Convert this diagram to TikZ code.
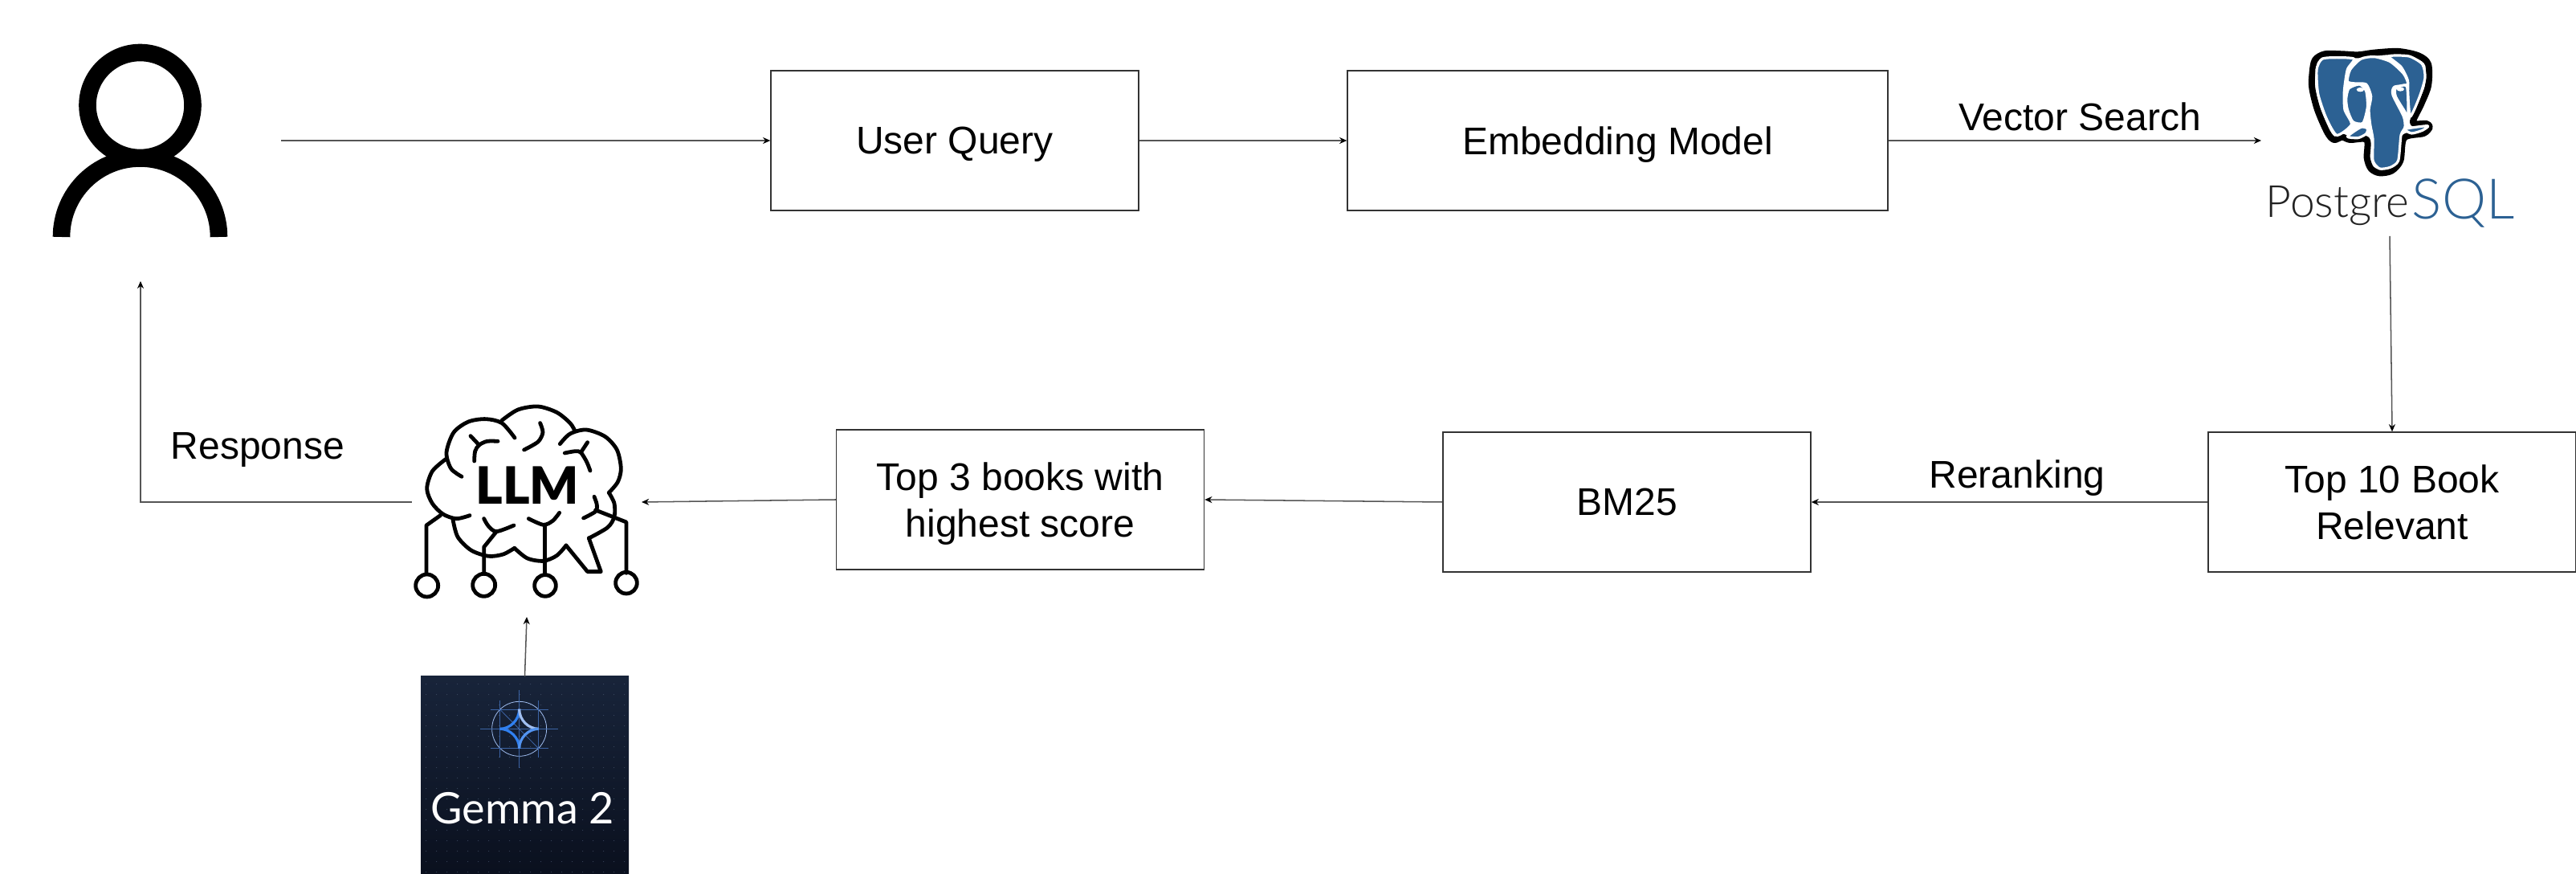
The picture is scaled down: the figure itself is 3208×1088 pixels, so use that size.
\documentclass[tikz,border=0pt]{standalone}
\usepackage{fontspec}
\setmainfont{Liberation Sans}
\newfontfamily\pgfont{Lato Light}
\newfontfamily\gemmafont{Lato}
\newfontfamily\llmfont{Lato Black}
\usetikzlibrary{arrows.meta}
\definecolor{line_gray}{RGB}{85, 85, 85}
\definecolor{pg_blue}{RGB}{44, 97, 147}
\definecolor{pg_dark}{RGB}{34, 34, 34}
\definecolor{gm_top}{RGB}{24, 36, 58}
\definecolor{gm_bottom}{RGB}{10, 16, 30}
\definecolor{gm_dot}{RGB}{72, 88, 112}
\definecolor{gm_blue}{RGB}{48, 128, 240}
\definecolor{gm_light}{RGB}{160, 190, 240}
\definecolor{gm_line}{RGB}{60, 100, 165}
\tikzstyle{box}=[rectangle,draw=black!80,line width=0.35pt,align=center,inner sep=0pt,text depth=0pt,
  minimum width=114.5pt,minimum height=43.5pt,font=\fontsize{12}{14.4}\selectfont]
\tikzstyle{wide}=[style=box,minimum width=168.25pt]
\tikzstyle{tag}=[inner sep=0pt,text depth=0pt,font=\fontsize{12}{14.4}\selectfont]
\tikzstyle{flow}=[draw=line_gray,line width=0.38pt,-{Stealth[length=2.3pt,width=2pt,black]}]
\tikzstyle{icon}=[inner sep=0pt,outer sep=0pt]
\tikzstyle{ink}=[draw=black,line width=1.2pt,line cap=round,line join=round]
\tikzstyle{ear}=[fill=pg_blue,draw=white,line width=0.8pt,line join=round]
\begin{document}
\begin{tikzpicture}[x=0.25pt,y=-0.25pt]
    \useasboundingbox (0,0) rectangle (3208,1088);
    % icons are empty nodes, the drawings go on top
    \node [style=icon,minimum width=87.5pt,minimum height=87.5pt] (user) at (175,175) {};
    \node [style=icon,minimum width=80pt,minimum height=59.5pt] (postgres) at (2976,175) {};
    \node [style=icon,minimum width=71.5pt,minimum height=71.5pt] (llm) at (656,625) {};
    \node [style=icon,minimum width=64.75pt,minimum height=61.5pt,top color=gm_top,bottom color=gm_bottom] (gemma) at (653.5,965) {};

    \node [style=box] (query) at (1189,175) {User Query};
    \node [style=wide] (embed) at (2014.5,175) {Embedding Model};
    \node [style=box] (top10) at (2979,625) {Top 10 Book\\Relevant};
    \node [style=box] (bm25) at (2026,625) {BM25};
    \node [style=box] (top3) at (1270.5,622) {Top 3 books with\\highest score};

    \node [style=tag] (vector) at (2590,145) {Vector Search};
    \node [style=tag] (rerank) at (2512,590) {Reranking};
    \node [style=tag] (response) at (321,555) {Response};

    \draw [style=flow] (user.east) to (query.west);
    \draw [style=flow] (query.east) to (embed.west);
    \draw [style=flow] (embed.east) to (postgres.west);
    \draw [style=flow] (postgres.south) to (top10.north);
    \draw [style=flow] (top10.west) to (bm25.east);
    \draw [style=flow] (bm25.west) to (top3.east);
    \draw [style=flow] (top3.west) to (llm.east);
    \draw [style=flow] (llm.west) -| (user.south);
    \draw [style=flow] (gemma.north) to (llm.south);

    % person
    \draw [line width=5.4pt] (174.5,131) circle (65.5);
    \draw [line width=5.4pt] (76.5,295) arc [start angle=180,end angle=360,radius=98];

    % elephant
    \begin{scope}[shift={(2760,30)},x=0.08333pt,y=-0.08333pt]
        \draw [draw=black,fill=white,line width=2pt,line join=round] plot [smooth cycle] coordinates {(358,190) (368,135) (405,112) (470,112) (530,115) (590,107) (680,102) (755,118) (792,150) (792,230) (765,300) (735,368) (785,372) (797,385) (775,408) (702,425) (688,510) (655,548) (610,556) (578,540) (563,500) (562,432) (500,432) (470,422) (440,432) (415,405) (378,320) (358,240)};
        \draw [style=ear] plot [smooth cycle,tension=0.4] coordinates {(375,170) (395,130) (450,125) (515,130) (490,170) (478,250) (480,320) (505,375) (450,415) (410,350) (380,260)};
        \draw [style=ear] plot [smooth cycle,tension=0.4] coordinates {(645,120) (720,120) (770,150) (780,200) (760,270) (725,345) (716,260) (715,210) (690,160)};
        \draw [style=ear] plot [smooth cycle,tension=0.4] coordinates {(490,215) (500,170) (540,130) (590,122) (650,140) (700,185) (715,225) (665,235) (660,265) (700,345) (705,385) (690,415) (680,510) (650,535) (610,540) (585,510) (585,430) (575,375) (570,320) (578,270) (560,225) (520,222)};
        \draw [style=ear] plot [smooth cycle,tension=0.4] coordinates {(495,240) (535,225) (560,250) (565,310) (548,370) (510,365) (490,320) (485,280)};
        \draw [style=ear] plot [smooth cycle,tension=0.4] coordinates {(670,240) (712,232) (716,340) (700,320) (670,270)};
        \draw [style=ear] plot [smooth cycle,tension=0.4] coordinates {(490,420) (540,385) (565,390) (560,410) (530,425)};
        \draw [style=ear] plot [smooth cycle,tension=0.4] coordinates {(705,392) (790,380) (770,397) (730,408)};
        \fill [white] (538,245) ellipse (14 and 8);
        \fill [white] (688,243) ellipse (14 and 8);
    \end{scope}
    \node [anchor=base west,inner sep=0pt,text=pg_dark,font=\fontsize{13.8}{14}\pgfont] (pgname) at (2821,271) {Postgre};
    \node [anchor=base west,inner sep=0pt,text=pg_blue,font=\fontsize{17.4}{18}\pgfont] (sqlname) at (3003,273) {SQL};

    % brain
    \begin{scope}[shift={(480,480)},x=0.08333pt,y=-0.08333pt]
        \draw [style=ink] plot [smooth] coordinates {(225,275) (175,320) (155,385) (175,440) (215,480) (265,497) (315,485)};
        \draw [style=ink] plot [smooth] coordinates {(285,340) (245,310) (228,250) (255,175) (310,135) (375,125) (435,140) (483,195)};
        \draw [style=ink] plot [smooth] coordinates {(435,130) (495,90) (570,78) (640,100) (690,140) (708,170)};
        \draw [style=ink] plot [smooth] coordinates {(652,218) (690,180) (750,165) (820,190) (865,240) (880,310) (868,360) (835,400)};
        \draw [style=ink] plot [smooth] coordinates {(835,400) (855,440) (855,490) (830,530) (760,570)};
        \draw [style=ink] (760,570) -- (805,695) -- (755,695) -- (675,597);
        \draw [style=ink] plot [smooth] coordinates {(675,597) (640,635) (590,655) (530,645) (482,607)};
        \draw [style=ink] plot [smooth] coordinates {(482,607) (440,630) (385,637) (320,615) (270,565) (252,500)};
        \draw [style=ink] (318,188) -- (350,222);
        \draw [style=ink] plot [smooth] coordinates {(332,282) (335,245) (350,222) (380,208) (420,208)};
        \draw [style=ink] plot [smooth] coordinates {(578,140) (588,175) (570,210) (518,240)};
        \draw [style=ink] plot [smooth] coordinates {(670,252) (710,245) (730,250) (752,285) (765,318)};
        \draw [style=ink] (755,212) -- (730,250);
        \draw [style=ink] plot [smooth] coordinates {(780,415) (790,445) (785,470) (740,495)};
        \draw [style=ink] (785,465) -- (900,510) -- (900,700);
        \draw [style=ink] (900,737) circle (40);
        \draw [style=ink] plot [smooth] coordinates {(368,497) (385,525) (415,545) (480,522)};
        \draw [style=ink] (415,545) -- (368,603) -- (368,700);
        \draw [style=ink] (368,745) circle (42);
        \draw [style=ink] plot [smooth] coordinates {(535,497) (590,520) (625,505) (650,475)};
        \draw [style=ink] (595,520) -- (595,700);
        \draw [style=ink] (597,747) circle (40);
        \draw [style=ink] (205,485) -- (153,522) -- (153,700);
        \draw [style=ink] (155,747) circle (42);
    \end{scope}
    \node [inner sep=0pt,text depth=0pt,font=\fontsize{16}{16}\llmfont] (llmname) at (657,604.5) {LLM};

    % gemma card
    \foreach \i in {0,...,19} {
        \foreach \j in {0,...,18} {
            \fill [gm_dot] (530.7+13*\i,851.7+13*\j) circle (0.5);
        }
    }
    \begin{scope}[shift={(500,760)},x=0.08333pt,y=-0.08333pt]
        \draw [gm_light,line width=0.2pt] (440,442) circle (102);
        \draw [gm_line,line width=0.25pt] (440,298) -- (440,588);
        \draw [gm_line,line width=0.25pt] (295,442) -- (585,442);
        \draw [gm_line,line width=0.25pt] (368,335) -- (368,550);
        \draw [gm_line,line width=0.25pt] (512,335) -- (512,550);
        \draw [gm_line,line width=0.25pt] (332,370) -- (550,370);
        \draw [gm_line,line width=0.25pt] (332,515) -- (550,515);
        \draw [gm_line,line width=0.2pt] (368,370) -- (512,515);
        \draw [gm_blue,line width=0.8pt] (368,442) .. controls (405,442) and (440,410) .. (440,368);
        \draw [gm_blue,line width=0.8pt] (368,442) .. controls (405,442) and (440,475) .. (440,515);
        \draw [gm_light,line width=0.8pt] (440,368) .. controls (440,410) and (475,442) .. (512,442);
        \draw [gm_blue!70!gm_light,line width=0.8pt] (512,442) .. controls (475,442) and (440,475) .. (440,515);
    \end{scope}
    \node [anchor=base,inner sep=0pt,text=white,font=\fontsize{13.5}{14}\gemmafont] (gemmaname) at (651,1025) {Gemma 2};
\end{tikzpicture}
\end{document}
